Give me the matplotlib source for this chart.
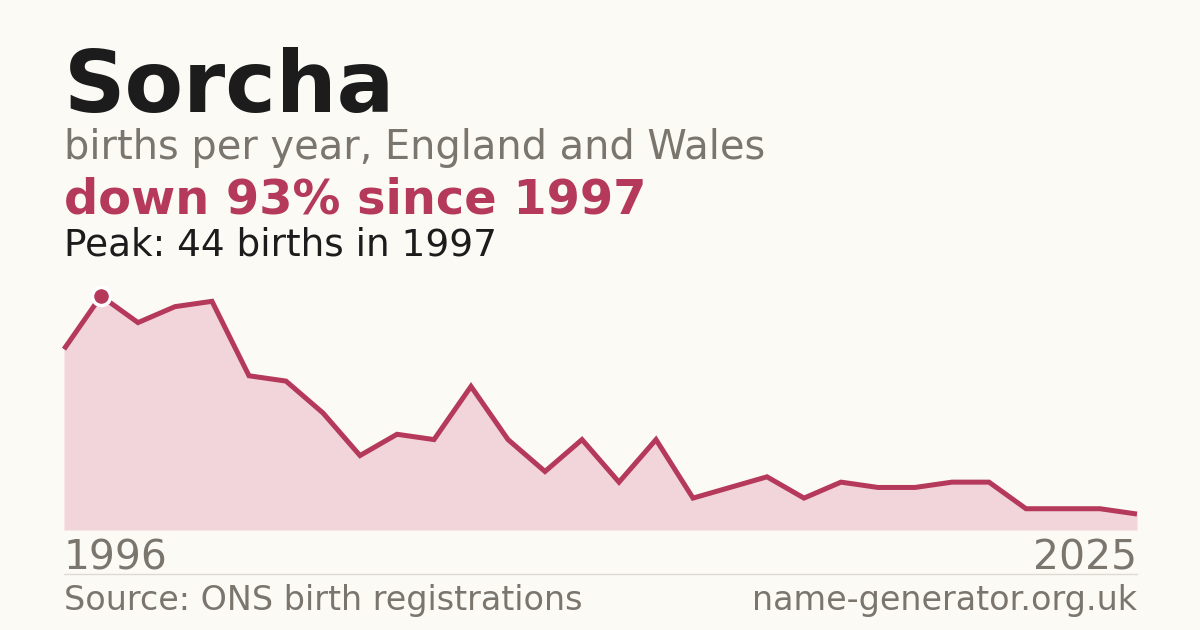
import matplotlib.pyplot as plt

plt.rcParams['font.family'] = ['DejaVu Sans']

# births per year for the name
years = list(range(1996, 2026))
births = [34, 44, 39, 42, 43, 29, 28, 22, 14, 18, 17, 27, 17, 11, 17,
          9, 17, 6, 8, 10, 6, 9, 8, 8, 9, 9, 4, 4, 4, 3]

name = "Sorcha"
subtitle = "births per year, England and Wales"
trend = "down 93% since 1997"
peak_text = "Peak: 44 births in 1997"
source = "Source: ONS birth registrations"
site = "name-generator.org.uk"

bg = "#fbfaf5"
red = "#b5395a"
fill = "#f1d5db"
grey = "#7a756d"

W, H = 1200, 630
fig = plt.figure(figsize=(12, 6.3), dpi=100, facecolor=bg)

def fx(px):
    return px / W

def fy(py):
    return 1 - py / H

# plot area: 1996 at x=64, 2025 at x=1137, zero at y=530, peak (44) at y=296
ax = fig.add_axes([fx(64), fy(530), fx(1137 - 64), (530 - 296) / H])
ax.set_facecolor(bg)
ax.fill_between(years, births, 0, color=fill, linewidth=0)
ax.plot(years, births, color=red, linewidth=3.6, solid_joinstyle="miter",
        solid_capstyle="butt", clip_on=False)
peak_i = births.index(max(births))
ax.plot(years[peak_i], births[peak_i], "o", color=red, markersize=13,
        markeredgecolor="white", markeredgewidth=2.5, clip_on=False, zorder=5)
ax.set_xlim(years[0], years[-1])
ax.set_ylim(0, max(births))
ax.axis("off")

fig.text(fx(64), fy(112), name, fontsize=61.6, fontweight="bold", color="#1c1c1c",
         va="baseline")
fig.text(fx(64), fy(159), subtitle, fontsize=28.7, color=grey, va="baseline")
fig.text(fx(64), fy(214), trend, fontsize=34.5, fontweight="bold", color=red,
         va="baseline")
fig.text(fx(64), fy(255), peak_text, fontsize=26.9, color="#1c1c1c", va="baseline")

fig.text(fx(64), fy(570), str(years[0]), fontsize=29.4, color=grey, va="baseline")
fig.text(fx(1137), fy(570), str(years[-1]), fontsize=29.4, color=grey,
         va="baseline", ha="right")

fig.add_artist(plt.Line2D([fx(64), fx(1137)], [fy(574), fy(574)],
                          color="#dddad3", linewidth=1))

fig.text(fx(64), fy(610), source, fontsize=24, color=grey, va="baseline")
fig.text(fx(1137), fy(610), site, fontsize=24, color=grey, va="baseline",
         ha="right")

fig.savefig("out.png", dpi=100, facecolor=bg)
